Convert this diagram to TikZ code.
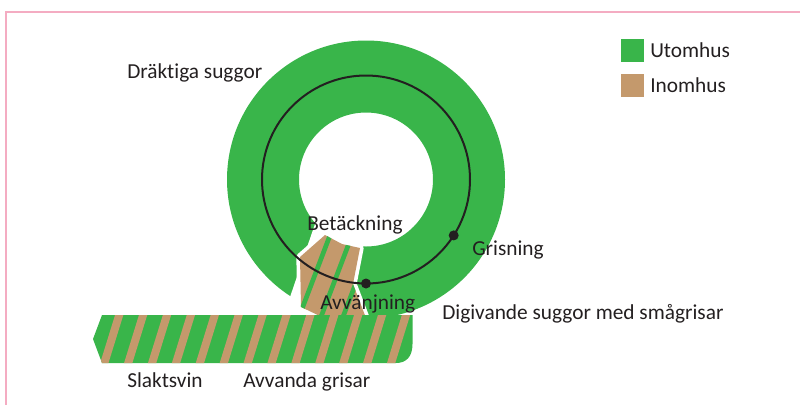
\documentclass[tikz,border=0pt]{standalone}
\usepackage{fontspec}
\setmainfont{Carlito}[Ligatures=NoCommon]
\usepackage{tikz}
\definecolor{outdoorgreen}{RGB}{57,181,74}
\definecolor{indoorbrown}{RGB}{196,153,108}
\definecolor{labelgray}{RGB}{35,31,32}
\definecolor{framepink}{RGB}{244,172,194}

\begin{document}
\begin{tikzpicture}[x=0.75pt,y=-0.75pt,
  lbl/.style={font=\fontsize{16}{19}\selectfont, text=labelgray, anchor=base west, inner sep=0pt}]
  \useasboundingbox (0,0) rectangle (800,405);
  % Frame
  \draw[framepink, line width=1.1pt] (6,405) -- (6,12) -- (800,12);

  % Ring (utomhus)
  \coordinate (c) at (366,179.5);
  \fill[outdoorgreen, even odd rule] (c) circle (139) (c) circle (67);

  % Cut in the ring
  \fill[white] (330,212) -- (316,221) -- (289,300) -- (290,322) -- (302,322) -- (300,257) -- (325,235) -- cycle;
  \filldraw[white, line width=5.5pt, line join=round] (325,235) -- (342,244) -- (360,248) -- (353,284) -- (366,318) -- (324,318) -- (301,307) -- (300,257) -- cycle;

  % Mating piece (inomhus)
  \begin{scope}
    \clip (325,235) -- (342,244) -- (360,248) -- (353,284) -- (366,318) -- (324,318) -- (301,307) -- (300,257) -- cycle;
    \fill[indoorbrown] (280,220) rectangle (390,330);
    \foreach \k in {0,1,2}
      \fill[outdoorgreen] ({333.3+22*\k},220) -- ++(5,0) -- ++(-38,100) -- ++(-5,0) -- cycle;
  \end{scope}

  % Strip
  \begin{scope}
    \clip (102,315) -- (412.5,315) -- (412.5,344) .. controls (412.5,357) and (406,363) .. (396,363) -- (102,363) -- (93,339) -- cycle;
    \fill[outdoorgreen] (90,310) rectangle (420,370);
    \foreach \k in {-1,...,13}
      \fill[indoorbrown] ({116.6+23.9*\k},310) -- ++(8.3,0) -- ++(-18.6,60) -- ++(-8.3,0) -- cycle;
  \end{scope}

  % Cycle line
  \draw[labelgray, line width=1.5pt] (c) circle (104);
  \coordinate (grisdot) at (453.7,235.4);
  \coordinate (avdot) at (366,283.5);
  \fill[labelgray] (grisdot) circle (5);
  \fill[labelgray] (avdot) circle (5);

  % Legend
  \fill[outdoorgreen] (621,39) rectangle (644,62);
  \fill[indoorbrown] (621,74) rectangle (644,97);
  \node[lbl] (utomhus) at (650,57) {Utomhus};
  \node[lbl] (inomhus) at (650,92.5) {Inomhus};

  % Labels
  \node[lbl] (draktiga) at (127,78) {Dräktiga suggor};
  \node[lbl] (betackning) at (307,230.7) {Betäckning};
  \node[lbl] (grisning) at (472,255) {Grisning};
  \node[lbl] (avvanjning) at (320,309) {Avvänjning};
  \node[lbl] (digivande) at (442,319) {Digivande suggor med smågrisar};
  \node[lbl] (slaktsvin) at (127,387.3) {Slaktsvin};
  \node[lbl] (avvanda) at (243,387.3) {Avvanda grisar};
\end{tikzpicture}
\end{document}
